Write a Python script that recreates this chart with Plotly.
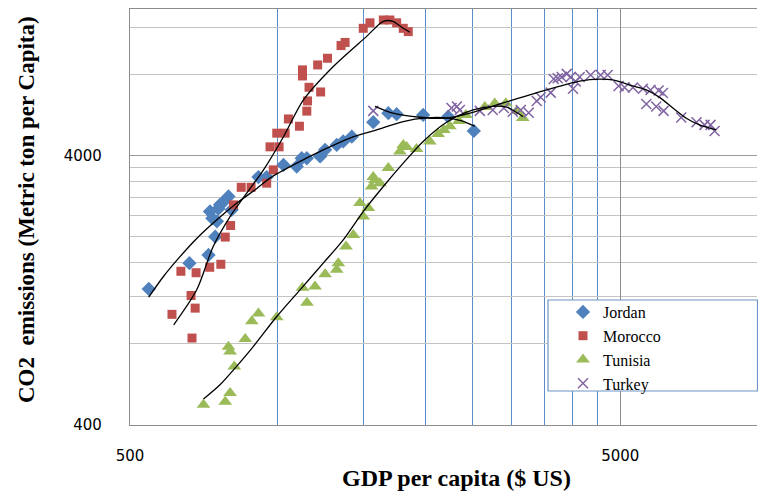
import plotly.graph_objects as go
import math

# ---------------- data (GDP per capita, CO2 emissions) ----------------
jordan_gdp = [546, 661, 723, 746, 752, 728, 763, 794, 806, 736, 770, 757,
              914, 950, 1028, 1094, 1120, 1147, 1221, 1250, 1320, 1361, 1417,
              1567, 1682, 1749, 1981, 2228, 2513]
jordan_co2 = [1280, 1595, 1710, 2000, 2280, 2480, 2625, 2820, 2516, 2340, 2660, 2540,
              3330, 3330, 3694, 3640, 3910, 3910, 3970, 4200, 4380, 4515, 4700,
              5320, 5745, 5700, 5660, 5580, 4940]

morocco_gdp = [609, 666, 679, 669, 635, 682, 727, 766, 782, 802, 813, 843, 883,
               950, 980, 965, 1007, 996, 1036, 1052, 1108, 1147, 1151, 1159, 1224,
               1124, 1124, 1207, 1264, 1347, 1373, 1495, 1543, 1643, 1694, 1749,
               1804, 1847]
morocco_co2 = [1030, 1210, 1086, 841, 1488, 1470, 1540, 1580, 1993, 2200, 2625, 3050, 3050,
               3160, 3540, 4310, 4310, 4845, 4845, 5470, 5140, 5850, 6380, 7170, 6890,
               7900, 8320, 8680, 9190, 10240, 10520, 11870, 12440, 12745, 12745, 12440,
               11870, 11540]

tunisia_gdp = [706, 782, 800, 816, 800, 794, 859, 886, 914, 996, 1124, 1148, 1192,
               1250, 1320, 1330, 1379, 1427, 1495, 1472, 1531, 1555, 1580, 1617, 1567,
               1682, 1776, 1804, 1833, 1920, 2044, 2125, 2183, 2245, 2342, 2421, 2646,
               2773, 2920, 3075, 3162]
tunisia_co2 = [476, 488, 526, 660, 750, 780, 835, 970, 1037, 1005, 1292, 1136, 1307,
               1450, 1507, 1595, 1840, 2030, 2376, 2665, 2553, 3072, 3250, 3160, 3330,
               3595, 4140, 4382, 4306, 4230, 4515, 4810, 4980, 5136, 5380, 5663, 6054,
               6237, 6255, 5850, 5510]

turkey_gdp = [1567, 2263, 2321, 2353, 2585, 2747, 2893, 3017, 3133, 3252, 3377, 3440,
              3606, 3657, 3726, 3797, 3887, 3960, 4004, 4055, 4131, 4350, 4560, 4711,
              4960, 5102, 5306, 5559, 5763, 5984, 6107, 5649, 5919, 6127, 6656, 7152,
              7425, 7638, 7785]
turkey_co2 = [5860, 6010, 6080, 5910, 5860, 5910, 6010, 5820, 5910, 5770, 6380, 6585,
              6850, 7700, 7740, 7830, 8040, 7830, 7080, 7540, 7830, 7970, 7970, 7970,
              7250, 7160, 7160, 7080, 7010, 6980, 6830, 6220, 6080, 5860, 5540, 5320,
              5200, 5200, 4935]

# polynomial trend lines
jordan_trend_gdp = [546, 585, 633, 684, 752, 826, 907, 965, 1094, 1239, 1405, 1592,
                    1804, 2013, 2211, 2376, 2524]
jordan_trend_co2 = [1193, 1423, 1690, 1970, 2310, 2665, 3020, 3300, 3749, 4199, 4647,
                    4981, 5350, 5520, 5520, 5380, 5136]

morocco_trend_gdp = [614, 684, 739, 800, 865, 936, 1028, 1129, 1299, 1519, 1643, 1719,
                     1804, 1861]
morocco_trend_co2 = [942, 1270, 1840, 2376, 2904, 3540, 4700, 6437, 8568, 11080, 12600,
                     12600, 11870, 11480]

tunisia_trend_gdp = [706, 763, 813, 892, 996, 1111, 1239, 1361, 1495, 1643, 1804, 1981,
                     2211, 2505, 2751, 2930, 3166]
tunisia_trend_co2 = [499, 564, 641, 782, 1011, 1270, 1595, 1947, 2480, 3072, 3749, 4515,
                     5320, 5909, 6096, 6054, 5580]

turkey_trend_gdp = [1580, 1721, 1951, 2211, 2466, 2709, 3021, 3535, 4131, 4537, 4823,
                    5297, 5649, 6011, 6400, 6816, 7252, 7843]
turkey_trend_co2 = [6096, 5745, 5551, 5505, 5745, 6054, 6437, 7010, 7555, 7690, 7635,
                    7256, 7010, 6578, 6007, 5505, 5199, 4981]

x_major_ticks = [500, 5000]
x_minor_grid = [1000, 1500, 2000, 2500, 3000, 3500, 4000, 4500]
y_major_ticks = [400, 4000]
y_minor_grid = [800, 1200, 1600, 2000, 2400, 2800, 3200, 3600, 8000, 12000]
x_range = [500, 9500]
y_range = [400, 14000]

# ---------------- figure ----------------
fig = go.Figure()

series = [
    ("Jordan", jordan_gdp, jordan_co2, dict(symbol="diamond", size=11, color="#4F81BD")),
    ("Morocco", morocco_gdp, morocco_co2, dict(symbol="square", size=9, color="#C0504D")),
    ("Tunisia", tunisia_gdp, tunisia_co2, dict(symbol="triangle-up", size=12, color="#9BBB59")),
    ("Turkey", turkey_gdp, turkey_co2, dict(symbol="x-thin", size=10, color="#8064A2",
                                              line=dict(color="#8064A2", width=1.5))),
]
for name, xs, ys, mk in series:
    fig.add_trace(go.Scatter(x=xs, y=ys, mode="markers", name=name, marker=mk))

trends = [
    (jordan_trend_gdp, jordan_trend_co2),
    (morocco_trend_gdp, morocco_trend_co2),
    (tunisia_trend_gdp, tunisia_trend_co2),
    (turkey_trend_gdp, turkey_trend_co2),
]
for xs, ys in trends:
    fig.add_trace(go.Scatter(x=xs, y=ys, mode="lines", showlegend=False,
                             hoverinfo="skip",
                             line=dict(color="black", width=1.3, shape="spline",
                                       smoothing=0.8)))

fig.update_xaxes(
    type="log", automargin=False,
    range=[math.log10(x_range[0]), math.log10(x_range[1])],
    tickvals=x_major_ticks,
    ticktext=[str(v) for v in x_major_ticks],
    showgrid=True, gridcolor="#8C8C8C", gridwidth=1.3,
    minor=dict(tickvals=x_minor_grid, showgrid=True, gridcolor="#5B8BC8",
               gridwidth=1.3, ticks=""),
    showline=True, linecolor="#8C8C8C", linewidth=1.3, mirror=True,
    ticks="", ticklabelstandoff=17,
    tickfont=dict(family="DejaVu Sans", size=15, color="#000000"),
    zeroline=False,
)
fig.update_yaxes(
    type="log", automargin=False,
    range=[math.log10(y_range[0]), math.log10(y_range[1])],
    tickvals=y_major_ticks,
    ticktext=[str(v) for v in y_major_ticks],
    showgrid=True, gridcolor="#9A9A9A", gridwidth=1.3,
    minor=dict(tickvals=y_minor_grid, showgrid=True, gridcolor="#C4C4C4",
               gridwidth=1.3, ticks=""),
    showline=True, linecolor="#8C8C8C", linewidth=1.3,
    ticks="", ticklabelstandoff=24,
    tickfont=dict(family="DejaVu Sans", size=15, color="#000000"),
    zeroline=False,
)

L, R, T, B = 130, 1, 9, 66
W, H = 758, 491
pw, ph = W - L - R, H - T - B

def px2paper_x(px):
    return (px - L) / pw

def px2paper_y(py):
    return (H - B - py) / ph

fig.update_layout(
    width=W, height=H,
    margin=dict(l=L, r=R, t=T, b=B, pad=0, autoexpand=False),
    paper_bgcolor="white", plot_bgcolor="white",
    showlegend=True,
    legend=dict(
        x=px2paper_x(563), y=px2paper_y(295), xanchor="left", yanchor="top",
        font=dict(family="Liberation Serif", size=16, color="#000000"),
        bgcolor="rgba(0,0,0,0)", borderwidth=0,
    ),
    shapes=[dict(type="rect", xref="paper", yref="paper",
                 x0=px2paper_x(548), x1=px2paper_x(757.5),
                 y0=px2paper_y(391), y1=px2paper_y(300),
                 line=dict(color="#6C94C8", width=1.2), fillcolor="white",
                 layer="above")],
    annotations=[
        dict(text="GDP per capita ($ US)", xref="paper", yref="paper",
             x=px2paper_x(456), y=px2paper_y(478), xanchor="center", yanchor="middle",
             showarrow=False,
             font=dict(family="Liberation Serif", size=24, color="#000000", weight="bold")),
        dict(text="CO2  emissions (Metric ton per Capita)", xref="paper", yref="paper",
             x=px2paper_x(27), y=px2paper_y(210), xanchor="center", yanchor="middle",
             textangle=-90, showarrow=False,
             font=dict(family="Liberation Serif", size=23, color="#000000", weight="bold")),
    ],
)

fig.write_html("out.html",
               config={"displayModeBar": False},
               post_script="document.body.style.margin='0px';document.body.style.padding='0px';")
